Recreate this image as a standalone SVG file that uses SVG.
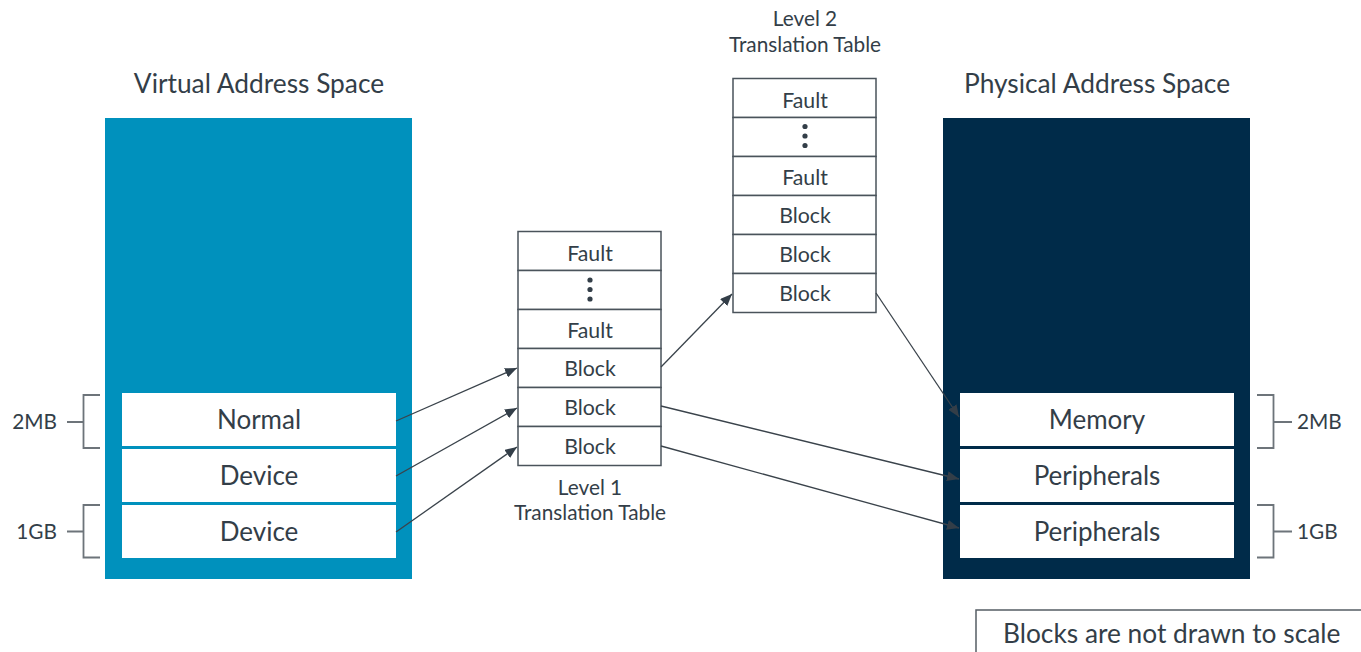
<svg xmlns="http://www.w3.org/2000/svg" width="1361" height="652" viewBox="0 0 1361 652">
<defs>
<style>
text{font-family:Lato,"Open Sans","Liberation Sans",sans-serif;fill:#333E48;text-anchor:middle}
.title{font-size:26.3px}
.big{font-size:26px}
.cell{font-size:21.3px}
.lbl{font-size:20.8px}
.tbl rect{fill:#fff;stroke:#4A535B;stroke-width:1.5}
.br{fill:none;stroke:#6D747A;stroke-width:1.8}
.conn line{stroke:#3A434B;stroke-width:1.3}
</style>
<marker id="ah" markerWidth="12" markerHeight="10" refX="12" refY="5" orient="auto" markerUnits="userSpaceOnUse">
<path d="M0,0 L12,5 L0,10 z" fill="#333E48"/>
</marker>
</defs>
<rect width="1361" height="652" fill="#fff"/>

<g id="virtual">
<text class="title" x="259" y="93">Virtual Address Space</text>
<rect x="105" y="118" width="307" height="461" fill="#0091BD"/>
<rect x="122" y="393" width="274" height="53" fill="#fff"/>
<rect x="122" y="449" width="274" height="53" fill="#fff"/>
<rect x="122" y="505" width="274" height="53" fill="#fff"/>
<text class="big" x="259" y="429">Normal</text>
<text class="big" x="259" y="485">Device</text>
<text class="big" x="259" y="541">Device</text>
</g>

<g id="vbrackets">
<path class="br" d="M100,395 H83.5 V448 H100 M83.5,422 H67"/>
<path class="br" d="M100,505 H83.5 V557.5 H100 M83.5,531.5 H67"/>
<text class="lbl" x="57" y="429" style="text-anchor:end">2MB</text>
<text class="lbl" x="57" y="539" style="text-anchor:end">1GB</text>
</g>

<g id="level1" class="tbl">
<rect x="518" y="231.5" width="143" height="39"/>
<rect x="518" y="270.5" width="143" height="39"/>
<rect x="518" y="309.5" width="143" height="39"/>
<rect x="518" y="348.5" width="143" height="39"/>
<rect x="518" y="387.5" width="143" height="39"/>
<rect x="518" y="426.5" width="143" height="39"/>
<text class="cell" x="590" y="261">Fault</text>
<circle cx="590" cy="280" r="2.6" fill="#333E48"/>
<circle cx="590" cy="289.5" r="2.6" fill="#333E48"/>
<circle cx="590" cy="299" r="2.6" fill="#333E48"/>
<text class="cell" x="590" y="338">Fault</text>
<text class="cell" x="590" y="376">Block</text>
<text class="cell" x="590" y="415">Block</text>
<text class="cell" x="590" y="454">Block</text>
<text class="lbl" x="590" y="495">Level 1</text>
<text class="lbl" x="590" y="520">Translation Table</text>
</g>

<g id="level2" class="tbl">
<text class="lbl" x="805" y="26">Level 2</text>
<text class="lbl" x="805" y="52">Translation Table</text>
<rect x="733" y="78.5" width="143" height="39"/>
<rect x="733" y="117.5" width="143" height="39"/>
<rect x="733" y="156.5" width="143" height="39"/>
<rect x="733" y="195.5" width="143" height="39"/>
<rect x="733" y="234.5" width="143" height="39"/>
<rect x="733" y="273.5" width="143" height="39"/>
<text class="cell" x="805" y="108">Fault</text>
<circle cx="805" cy="126.5" r="2.6" fill="#333E48"/>
<circle cx="805" cy="136" r="2.6" fill="#333E48"/>
<circle cx="805" cy="145.5" r="2.6" fill="#333E48"/>
<text class="cell" x="805" y="185">Fault</text>
<text class="cell" x="805" y="223">Block</text>
<text class="cell" x="805" y="262">Block</text>
<text class="cell" x="805" y="301">Block</text>
</g>

<g id="physical">
<text class="title" x="1097" y="93">Physical Address Space</text>
<rect x="943" y="118" width="307" height="461" fill="#002B49"/>
<rect x="960" y="393" width="274" height="53" fill="#fff"/>
<rect x="960" y="449" width="274" height="53" fill="#fff"/>
<rect x="960" y="505" width="274" height="53" fill="#fff"/>
<text class="big" x="1097" y="429">Memory</text>
<text class="big" x="1097" y="485">Peripherals</text>
<text class="big" x="1097" y="541">Peripherals</text>
</g>

<g id="pbrackets">
<path class="br" d="M1257,395 H1273.5 V448 H1257 M1273.5,422 H1292"/>
<path class="br" d="M1257,505 H1273.5 V557.5 H1257 M1273.5,531.5 H1292"/>
<text class="lbl" x="1297" y="429" style="text-anchor:start">2MB</text>
<text class="lbl" x="1297" y="539" style="text-anchor:start">1GB</text>
</g>

<g id="connectors" class="conn">
<line x1="396" y1="421" x2="517" y2="368" marker-end="url(#ah)"/>
<line x1="396" y1="476" x2="517" y2="408" marker-end="url(#ah)"/>
<line x1="396" y1="532" x2="517" y2="447" marker-end="url(#ah)"/>
<line x1="661" y1="367" x2="732" y2="294" marker-end="url(#ah)"/>
<line x1="876" y1="293" x2="959" y2="417" marker-end="url(#ah)"/>
<line x1="661" y1="406" x2="959" y2="479" marker-end="url(#ah)"/>
<line x1="661" y1="446" x2="959" y2="528" marker-end="url(#ah)"/>
</g>

<g id="note">
<rect x="976" y="610" width="400" height="60" fill="#fff" stroke="#555D64" stroke-width="1.5"/>
<text x="1003" y="643" style="font-size:26.3px;text-anchor:start">Blocks are not drawn to scale</text>
</g>
</svg>
